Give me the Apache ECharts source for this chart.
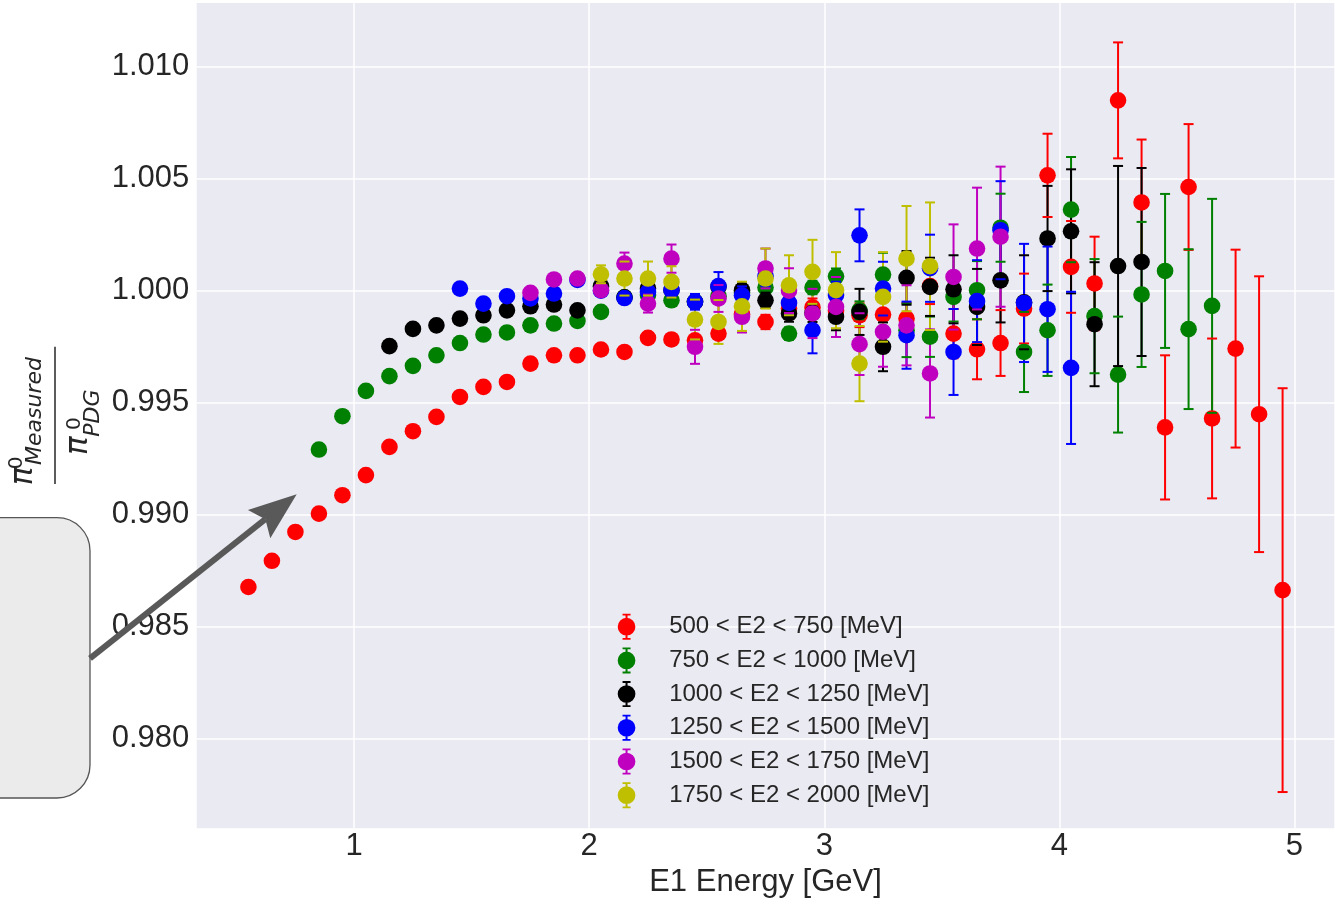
<!DOCTYPE html>
<html>
<head>
<meta charset="utf-8">
<script src="https://cdn.jsdelivr.net/npm/echarts@6/dist/echarts.min.js"></script>
<style>
  html, body { margin: 0; padding: 0; background: #ffffff; }
  #chart { width: 1335px; height: 908px; }
</style>
</head>
<body>
<div id="chart"></div>
<script>
// E1 bin centres [GeV]
const e1Bins = [0.55, 0.65, 0.75, 0.85, 0.95, 1.05, 1.15, 1.25, 1.35, 1.45,
                1.55, 1.65, 1.75, 1.85, 1.95, 2.05, 2.15, 2.25, 2.35, 2.45,
                2.55, 2.65, 2.75, 2.85, 2.95, 3.05, 3.15, 3.25, 3.35, 3.45,
                3.55, 3.65, 3.75, 3.85, 3.95, 4.05, 4.15, 4.25, 4.35, 4.45,
                4.55, 4.65, 4.75, 4.85, 4.95];

const xTicks = [1, 2, 3, 4, 5];
const yTicks = [0.980, 0.985, 0.990, 0.995, 1.000, 1.005, 1.010];

const seriesNames = [
  '500 < E2 < 750 [MeV]',
  '750 < E2 < 1000 [MeV]',
  '1000 < E2 < 1250 [MeV]',
  '1250 < E2 < 1500 [MeV]',
  '1500 < E2 < 1750 [MeV]',
  '1750 < E2 < 2000 [MeV]'
];
const seriesColors = ['#ff0000', '#008000', '#000000', '#0000ff', '#bf00bf', '#bfbf00'];

// index into e1Bins of the first filled bin of each E2 slice
const firstBin = [0, 3, 6, 9, 12, 15];

// mass ratio pi0 measured / pi0 PDG, and its uncertainty
const ratio500 = [0.98676, 0.98793, 0.98922, 0.99004, 0.99086, 0.99176, 0.99302, 0.99372, 0.99436, 0.99525,
                  0.99570, 0.99592, 0.99674, 0.99711, 0.99711, 0.99737, 0.99726, 0.99789, 0.99782, 0.99778,
                  0.99808, 0.99895, 0.99860, 0.99920, 0.99925, 0.99910, 0.99890, 0.99893, 0.99875, 1.00020,
                  0.99808, 0.99738, 0.99766, 0.99920, 1.00515, 1.00106, 1.00032, 1.00850, 1.00394, 0.99389,
                  1.00463, 0.99429, 0.99741, 0.99448, 0.98662];
const err500 = [0.00005, 0.00005, 0.00006, 0.00006, 0.00007, 0.00007, 0.00008, 0.00008, 0.00009, 0.00009,
                0.00010, 0.00010, 0.00011, 0.00012, 0.00013, 0.00014, 0.00015, 0.00016, 0.00018, 0.00020,
                0.00024, 0.00028, 0.00032, 0.00036, 0.00040, 0.00045, 0.00053, 0.00062, 0.00070, 0.00080,
                0.00110, 0.00134, 0.00147, 0.00156, 0.00186, 0.00205, 0.00209, 0.00259, 0.00281, 0.00322,
                0.00281, 0.00357, 0.00442, 0.00616, 0.00902];

const ratio750 = [0.99290, 0.99439, 0.99552, 0.99618, 0.99664, 0.99711, 0.99766, 0.99804, 0.99813, 0.99845,
                  0.99853, 0.99865, 0.99905, 0.99970, 0.99980, 0.99957, 0.99950, 0.99975, 0.99990, 1.00014,
                  0.99808, 1.00014, 1.00064, 0.99912, 1.00072, 0.99823, 0.99794, 0.99972, 1.00002, 1.00281,
                  0.99726, 0.99823, 1.00362, 0.99886, 0.99625, 0.99983, 1.00088, 0.99828, 0.99932];
const err750 = [0.00006, 0.00006, 0.00007, 0.00007, 0.00008, 0.00008, 0.00009, 0.00009, 0.00010, 0.00010,
                0.00011, 0.00012, 0.00013, 0.00014, 0.00016, 0.00018, 0.00020, 0.00022, 0.00024, 0.00026,
                0.00028, 0.00030, 0.00035, 0.00040, 0.00097, 0.00120, 0.00090, 0.00110, 0.00130, 0.00152,
                0.00179, 0.00204, 0.00235, 0.00255, 0.00259, 0.00324, 0.00344, 0.00357, 0.00478];

const ratio1000 = [0.99752, 0.99829, 0.99845, 0.99875, 0.99890, 0.99912, 0.99930, 0.99938, 0.99912, 1.00020,
                   0.99970, 1.00010, 1.00002, 0.99950, 1.00017, 1.00002, 0.99957, 0.99898, 0.99900, 0.99883,
                   0.99905, 0.99749, 1.00057, 1.00017, 1.00006, 0.99927, 1.00046, 0.99948, 1.00233, 1.00265,
                   0.99850, 1.00110, 1.00128];
const err1000 = [0.00008, 0.00008, 0.00009, 0.00009, 0.00010, 0.00010, 0.00011, 0.00012, 0.00013, 0.00015,
                 0.00017, 0.00019, 0.00021, 0.00024, 0.00027, 0.00030, 0.00034, 0.00037, 0.00040, 0.00060,
                 0.00103, 0.00109, 0.00120, 0.00130, 0.00152, 0.00170, 0.00188, 0.00210, 0.00235, 0.00277,
                 0.00277, 0.00447, 0.00420];

const ratio1250 = [1.00009, 0.99942, 0.99975, 0.99965, 0.99987, 1.00048, 1.00000, 0.99967, 0.99994, 1.00002,
                   0.99950, 1.00020, 0.99979, 1.00065, 0.99945, 0.99823, 0.99980, 1.00247, 1.00009, 0.99801,
                   1.00100, 0.99726, 0.99953, 1.00270, 0.99945, 0.99917, 0.99655];
const err1250 = [0.00010, 0.00010, 0.00011, 0.00012, 0.00013, 0.00015, 0.00018, 0.00020, 0.00025, 0.00030,
                 0.00035, 0.00063, 0.00040, 0.00045, 0.00050, 0.00103, 0.00060, 0.00116, 0.00120, 0.00150,
                 0.00150, 0.00192, 0.00183, 0.00219, 0.00264, 0.00280, 0.00340];

const ratio1500 = [0.99990, 1.00050, 1.00054, 1.00002, 1.00121, 0.99942, 1.00143, 0.99749, 0.99965, 0.99883,
                   1.00099, 1.00000, 0.99898, 0.99927, 0.99761, 0.99816, 0.99845, 0.99630, 1.00061, 1.00188,
                   1.00241];
const err1500 = [0.00015, 0.00020, 0.00022, 0.00025, 0.00049, 0.00040, 0.00063, 0.00076, 0.00060, 0.00070,
                 0.00089, 0.00100, 0.00110, 0.00134, 0.00138, 0.00156, 0.00179, 0.00197, 0.00235, 0.00272,
                 0.00313];

const ratio1750 = [1.00073, 1.00054, 1.00054, 1.00039, 0.99871, 0.99860, 0.99930, 1.00054, 1.00024, 1.00084,
                   1.00002, 0.99674, 0.99972, 1.00143, 1.00109];
const err1750 = [0.00040, 0.00076, 0.00076, 0.00070, 0.00089, 0.00098, 0.00110, 0.00134, 0.00134, 0.00143,
                 0.00170, 0.00168, 0.00200, 0.00235, 0.00285];

const ratios = [ratio500, ratio750, ratio1000, ratio1250, ratio1500, ratio1750];
const errors = [err500, err750, err1000, err1250, err1500, err1750];

// [E1, ratio, uncertainty] triples per E2 slice
const points = ratios.map((vals, k) =>
  vals.map((v, i) => [e1Bins[firstBin[k] + i], v, errors[k][i]])
);

const TEXT = '#262626';
const SANS = '"Liberation Sans", Arial, sans-serif';
const MATH = '"DejaVu Sans", sans-serif';
const MARKER_R = 8.3;
const CAP_HALF = 5;
const LINE_W = 2;

// vertical error bars: drawn beneath every marker
function barSeries(k) {
  return {
    type: 'custom',
    name: seriesNames[k],
    z: 2,
    itemStyle: { color: seriesColors[k] },
    data: points[k],
    encode: { x: 0, y: 1 },
    renderItem: function (params, api) {
      const x = api.value(0), y = api.value(1), e = api.value(2);
      const p1 = api.coord([x, y + e]);
      const p2 = api.coord([x, y - e]);
      return {
        type: 'line',
        shape: { x1: p1[0], y1: p1[1], x2: p2[0], y2: p2[1] },
        style: { stroke: seriesColors[k], lineWidth: LINE_W }
      };
    }
  };
}

// markers followed by their caps
function markerSeries(k) {
  return {
    type: 'custom',
    name: seriesNames[k],
    z: 3,
    itemStyle: { color: seriesColors[k] },
    data: points[k],
    encode: { x: 0, y: 1 },
    renderItem: function (params, api) {
      const x = api.value(0), y = api.value(1), e = api.value(2);
      const c = api.coord([x, y]);
      const p1 = api.coord([x, y + e]);
      const p2 = api.coord([x, y - e]);
      const cap = p => ({
        type: 'line',
        shape: { x1: p[0] - CAP_HALF, y1: p[1], x2: p[0] + CAP_HALF, y2: p[1] },
        style: { stroke: seriesColors[k], lineWidth: LINE_W }
      });
      return {
        type: 'group',
        children: [
          { type: 'circle', shape: { cx: c[0], cy: c[1], r: MARKER_R }, style: { fill: seriesColors[k] } },
          cap(p1),
          cap(p2)
        ]
      };
    }
  };
}

const series = [];
for (let k = 0; k < seriesNames.length; k++) series.push(barSeries(k));
for (let k = 0; k < seriesNames.length; k++) series.push(markerSeries(k));

// legend glyph: filled circle with an error bar and caps
const ERRBAR_ICON = 'path://M0.15,13 A8.85,8.85 0 1 1 17.85,13 A8.85,8.85 0 1 1 0.15,13 Z ' +
  'M8,0.5 H10 V25.5 H8 Z M5,0 H13 V1.8 H5 Z M5,24.2 H13 V26 H5 Z';

// callout arrow geometry (pixels)
const arrowStart = [90, 658.3];
const arrowTip = [296.7, 494.3];
const adx = arrowTip[0] - arrowStart[0], ady = arrowTip[1] - arrowStart[1];
const alen = Math.hypot(adx, ady);
const ux = adx / alen, uy = ady / alen;
const nx = -uy, ny = ux;
const headPt = (a, b) => [arrowTip[0] + a * ux + b * nx, arrowTip[1] + a * uy + b * ny];

const chart = echarts.init(document.getElementById('chart'), null, { renderer: 'canvas' });
chart.setOption({
  animation: false,
  backgroundColor: '#ffffff',
  grid: {
    left: 196.7, right: 0.7, top: 3, bottom: 79.7,
    show: true, backgroundColor: '#eaeaf2', borderWidth: 0
  },
  xAxis: {
    type: 'value',
    min: 0.33, max: 5.17,
    name: 'E1 Energy [GeV]',
    nameLocation: 'middle',
    nameGap: 38.7,
    nameTextStyle: { fontSize: 31, color: TEXT, fontFamily: SANS },
    axisLine: { show: false },
    axisTick: { show: false, customValues: xTicks },
    axisLabel: {
      customValues: xTicks, fontSize: 31, color: TEXT, fontFamily: SANS, margin: 3,
      formatter: v => String(v)
    },
    splitLine: { show: true, lineStyle: { color: '#ffffff', width: 1.5 } }
  },
  yAxis: {
    type: 'value',
    min: 0.97598, max: 1.01285,
    axisLine: { show: false },
    axisTick: { show: false, customValues: yTicks },
    axisLabel: {
      customValues: yTicks, fontSize: 31, color: TEXT, fontFamily: SANS, margin: 7.4,
      formatter: v => v.toFixed(3)
    },
    splitLine: { show: true, lineStyle: { color: '#ffffff', width: 1.5 } }
  },
  legend: {
    orient: 'vertical',
    left: 617.7, top: 613.7,
    padding: 0,
    itemGap: 7.7,
    itemWidth: 18, itemHeight: 26,
    icon: ERRBAR_ICON,
    data: seriesNames,
    textStyle: { fontSize: 24, color: TEXT, fontFamily: SANS, padding: [0, 0, 0, 28.6] }
  },
  series: series,
  graphic: [
    {
      type: 'rect', z: 100,
      shape: { x: -40, y: 517.7, width: 130, height: 280.3, r: 33 },
      style: { fill: '#ebebeb', stroke: '#555555', lineWidth: 1.3 }
    },
    {
      type: 'line', z: 101,
      shape: { x1: arrowStart[0], y1: arrowStart[1], x2: headPt(-40, 0)[0], y2: headPt(-40, 0)[1] },
      style: { stroke: '#595959', lineWidth: 6 }
    },
    {
      type: 'polygon', z: 101,
      shape: { points: [arrowTip, headPt(-48, -18), headPt(-40, 0), headPt(-48, 18)] },
      style: { fill: '#595959' }
    },
    {
      // y-axis title: pi0 measured over pi0 PDG, reading bottom to top
      type: 'group', x: 55, y: 415.3, rotation: Math.PI / 2, z: 50,
      children: [
        { type: 'line', shape: { x1: -68.7, y1: 0, x2: 68.6, y2: 0 }, style: { stroke: TEXT, lineWidth: 1.5 } },
        { type: 'text', x: -70, y: -30.7,
          style: { text: 'π', fontSize: 31, fontStyle: 'italic', fontFamily: MATH, fill: TEXT, align: 'left', verticalAlign: 'middle' } },
        { type: 'text', x: -54, y: -38,
          style: { text: '0', fontSize: 20, fontFamily: MATH, fill: TEXT, align: 'left', verticalAlign: 'middle' } },
        { type: 'text', x: -49.7, y: -19.3,
          style: { text: 'Measured', fontSize: 22, fontStyle: 'italic', fontFamily: MATH, fill: TEXT, align: 'left', verticalAlign: 'middle' } },
        { type: 'text', x: -39.7, y: 24.3,
          style: { text: 'π', fontSize: 31, fontStyle: 'italic', fontFamily: MATH, fill: TEXT, align: 'left', verticalAlign: 'middle' } },
        { type: 'text', x: -14.7, y: 19.8,
          style: { text: '0', fontSize: 20, fontFamily: MATH, fill: TEXT, align: 'left', verticalAlign: 'middle' } },
        { type: 'text', x: -21.4, y: 37.9,
          style: { text: 'PDG', fontSize: 22, fontStyle: 'italic', fontFamily: MATH, fill: TEXT, align: 'left', verticalAlign: 'middle' } }
      ]
    }
  ]
});
</script>
</body>
</html>
